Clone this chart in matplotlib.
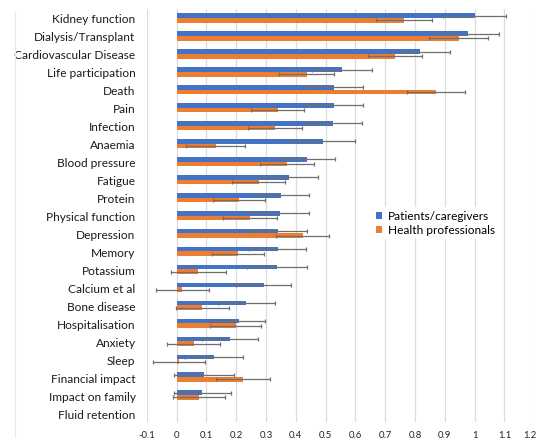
import numpy as np
import matplotlib
matplotlib.use("Agg")
import matplotlib.pyplot as plt
import matplotlib.transforms as mtransforms
from matplotlib.patches import Patch
from matplotlib.lines import Line2D

plt.rcParams['font.family'] = ['Lato', 'DejaVu Sans']

categories = ["Kidney function", "Dialysis/Transplant", "Cardiovascular Disease",
              "Life participation", "Death", "Pain", "Infection", "Anaemia",
              "Blood pressure", "Fatigue", "Protein", "Physical function",
              "Depression", "Memory", "Potassium", "Calcium et al", "Bone disease",
              "Hospitalisation", "Anxiety", "Sleep", "Financial impact",
              "Impact on family", "Fluid retention"]

patients = [1.0, 0.978, 0.817, 0.556, 0.527, 0.527, 0.525, 0.491, 0.436, 0.378,
            0.351, 0.346, 0.341, 0.339, 0.337, 0.292, 0.234, 0.208, 0.179, 0.126,
            0.092, 0.087, np.nan]
patients_err = [0.106, 0.104, 0.100, 0.100, 0.099, 0.098, 0.097, 0.106, 0.097, 0.098,
                0.094, 0.098, 0.097, 0.095, 0.100, 0.093, 0.095, 0.090, 0.095, 0.097,
                0.101, 0.095, np.nan]
health = [0.763, 0.947, 0.733, 0.436, 0.871, 0.339, 0.331, 0.131, 0.370, 0.275,
          0.211, 0.246, 0.424, 0.206, 0.073, 0.020, 0.087, 0.199, 0.057, 0.007,
          0.223, 0.076, np.nan]
health_err = [0.095, 0.099, 0.091, 0.092, 0.097, 0.090, 0.090, 0.098, 0.090, 0.089,
              0.087, 0.090, 0.089, 0.087, 0.093, 0.088, 0.089, 0.086, 0.089, 0.087,
              0.091, 0.087, np.nan]

series_names = ["Patients/caregivers", "Health professionals"]
xticks = [-0.1, 0, 0.1, 0.2, 0.3, 0.4, 0.5, 0.6, 0.7, 0.8, 0.9, 1, 1.1, 1.2]
xtick_labels = ["-0.1", "0", "0.1", "0.2", "0.3", "0.4", "0.5", "0.6", "0.7",
                "0.8", "0.9", "1", "1.1", "1.2"]

blue = "#4472C4"
orange = "#ED7D31"
err_color = "#6f6f6f"

fig = plt.figure(figsize=(5.38, 4.39), dpi=100)
ax = fig.add_axes([0.2727, 0.0364, 0.9931 - 0.2727, 0.9772 - 0.0364])

y = np.arange(len(categories))
h = 0.26
ek = dict(ecolor=err_color, elinewidth=0.9, capsize=1.6, capthick=0.9)
ax.barh(y - h / 2, patients, height=h, color=blue, xerr=patients_err,
        error_kw=ek, zorder=3, label=series_names[0])
ax.barh(y + h / 2, health, height=h, color=orange, xerr=health_err,
        error_kw=ek, zorder=3, label=series_names[1])

ax.set_ylim(len(categories) - 0.5, -0.5)
ax.set_xlim(-0.1, 1.2)
ax.set_yticks(y)
ax.set_yticklabels(categories, fontsize=8.6, color="#1a1a1a")
ax.set_xticks(xticks)
ax.set_xticklabels(xtick_labels, fontsize=6.8, color="#222222")
ax.tick_params(axis="both", length=0)
ax.tick_params(axis="y", pad=8)
ax.tick_params(axis="x", pad=6)
ax.grid(axis="x", color="#dcdcdc", linewidth=0.9, zorder=0)
for s in ax.spines.values():
    s.set_visible(False)

# keep the last tick label inside the figure edge
last = ax.get_xticklabels()[-1]
last.set_transform(last.get_transform() +
                   mtransforms.ScaledTranslation(-3 / 72, 0, fig.dpi_scale_trans))

handles = [Patch(facecolor=blue), Patch(facecolor=orange)]
leg = ax.legend(handles, series_names, loc="center left",
                bbox_to_anchor=(0.566, 0.482), fontsize=8.6,
                frameon=True, facecolor="white", edgecolor="none",
                framealpha=1, fancybox=False, handlelength=0.55,
                handleheight=0.55, handletextpad=0.5, labelspacing=0.25,
                borderpad=0.3)
leg.set_zorder(5)

# faint outer border on the left of the chart area
fig.add_artist(Line2D([15 / 538, 15 / 538], [0.0, 1 - 13 / 439],
                      transform=fig.transFigure, color="#e8e8e8", linewidth=0.8))

fig.savefig("out.png", dpi=100)
